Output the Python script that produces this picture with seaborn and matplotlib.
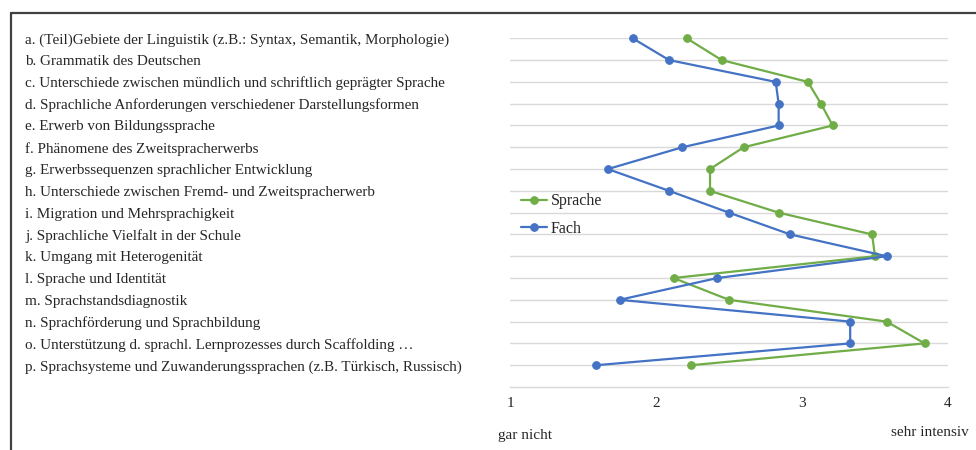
"""
Sprachbezogene Themen: Intensitaet der Behandlung (Sprache vs. Fach)
"""

import pandas as pd
import matplotlib.pyplot as plt
from matplotlib.lines import Line2D
import seaborn as sns

# ── Data ──────────────────────────────────────────────────────────────────────
topics = [
    "a. (Teil)Gebiete der Linguistik (z.B.: Syntax, Semantik, Morphologie)",
    "b. Grammatik des Deutschen",
    "c. Unterschiede zwischen mündlich und schriftlich geprägter Sprache",
    "d. Sprachliche Anforderungen verschiedener Darstellungsformen",
    "e. Erwerb von Bildungssprache",
    "f. Phänomene des Zweitspracherwerbs",
    "g. Erwerbssequenzen sprachlicher Entwicklung",
    "h. Unterschiede zwischen Fremd- und Zweitspracherwerb",
    "i. Migration und Mehrsprachigkeit",
    "j. Sprachliche Vielfalt in der Schule",
    "k. Umgang mit Heterogenität",
    "l. Sprache und Identität",
    "m. Sprachstandsdiagnostik",
    "n. Sprachförderung und Sprachbildung",
    "o. Unterstützung d. sprachl. Lernprozesses durch Scaffolding …",
    "p. Sprachsysteme und Zuwanderungssprachen (z.B. Türkisch, Russisch)",
]
sprache = [2.21, 2.45, 3.04, 3.13, 3.21, 2.60, 2.37, 2.37,
           2.84, 3.48, 3.50, 2.12, 2.50, 3.58, 3.84, 2.24]
fach    = [1.84, 2.09, 2.82, 2.84, 2.84, 2.18, 1.67, 2.09,
           2.50, 2.92, 3.58, 2.42, 1.75, 3.33, 3.33, 1.59]
x_ticks = [1, 2, 3, 4]

# ── Style ─────────────────────────────────────────────────────────────────────
sns.set_theme(style="white")
plt.rcParams["font.family"] = ["Liberation Serif", "DejaVu Serif"]
GREEN = "#70AD47"
BLUE  = "#4472C4"
GRID  = "#D9D9D9"
FS    = 10.9

df = pd.DataFrame({"topic": topics, "pos": range(len(topics)),
                   "Sprache": sprache, "Fach": fach})

W, H = 976, 450
fig = plt.figure(figsize=(W / 100, H / 100), dpi=100)
ax = fig.add_axes([510 / W, 1 - 387 / H, (948 - 510) / W, (387 - 38.3) / H])

for name, col in [("Sprache", GREEN), ("Fach", BLUE)]:
    sns.lineplot(data=df, x=name, y="pos", orient="y", sort=False, ax=ax,
                 color=col, linewidth=1.6, marker="o", markersize=5.5,
                 markeredgecolor=col, label=name, clip_on=False, zorder=3)

ax.set_xlim(1, 4)
ax.set_ylim(len(topics), 0)
ax.set_xticks(x_ticks)
ax.set_xticklabels([str(t) for t in x_ticks], fontsize=11)
ax.set_yticks(df["pos"])
ax.set_yticklabels(df["topic"], fontsize=FS)
for lab in ax.get_yticklabels():
    lab.set_ha("left")
    lab.set_va("center_baseline")
ax.tick_params(axis="y", length=0, pad=(510 - 25) * 72 / 100)
ax.tick_params(axis="x", length=0, pad=7)
ax.set_xlabel(""); ax.set_ylabel("")
ax.grid(axis="y", color=GRID, linewidth=1)
ax.grid(axis="x", visible=False)
for s in ["top", "left", "right"]:
    ax.spines[s].set_visible(False)
ax.spines["bottom"].set_color(GRID)
ax.spines["bottom"].set_linewidth(1)

leg = ax.legend(loc="center left", bbox_to_anchor=(513 / W, 1 - 215 / H),
                bbox_transform=fig.transFigure, frameon=False, fontsize=11.5,
                handlelength=1.6, handletextpad=0.25, labelspacing=0.7,
                borderpad=0)

fig.text(525 / W, 1 - 435 / H, "gar nicht", fontsize=11, ha="center", va="center")
fig.text(930 / W, 1 - 432 / H, "sehr intensiv", fontsize=11, ha="center", va="center")

# frame (top + left edge of the pasted chart box)
fig.add_artist(Line2D([11 / W, 1.0], [1 - 13 / H, 1 - 13 / H],
                      transform=fig.transFigure, color="#404040", linewidth=1.6))
fig.add_artist(Line2D([11 / W, 11 / W], [0, 1 - 13 / H],
                      transform=fig.transFigure, color="#404040", linewidth=1.6))

fig.savefig("out.png", dpi=100)
